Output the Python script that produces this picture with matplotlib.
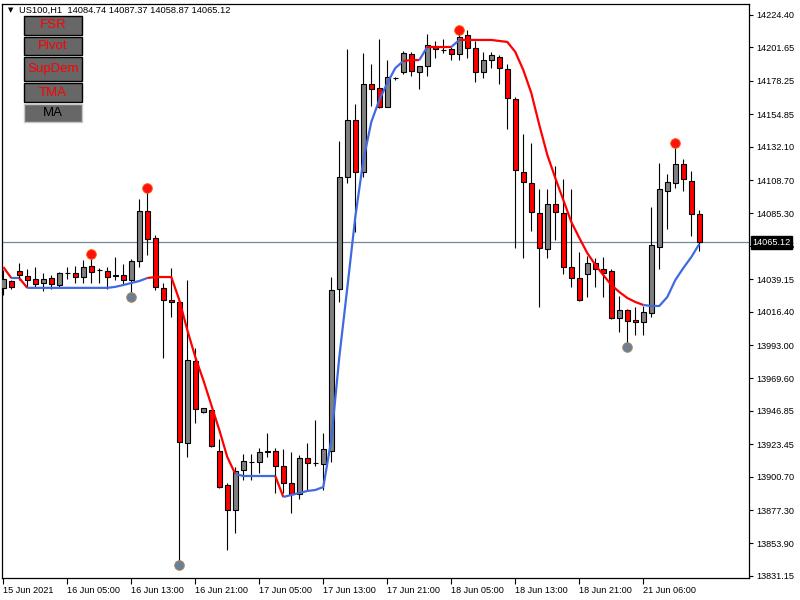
import matplotlib
matplotlib.use("Agg")
import matplotlib.pyplot as plt
from matplotlib.patches import Rectangle
from matplotlib.transforms import blended_transform_factory

# US100 H1 candles, oldest first
opens = [14033.1, 14037.9, 14044.9, 14041.4, 14039.3, 14036.5, 14040.0, 14035.1, 14043.5, 14043.5,
         14040.7, 14048.4, 14045.6, 14044.9, 14042.1, 14042.1, 14038.6, 14051.9, 14087.0, 14068.1,
         14033.1, 14024.6, 14023.2, 13924.4, 13981.8, 13946.1, 13947.5, 13918.8, 13894.9, 13877.4,
         13905.4, 13911.0, 13911.0, 13918.1, 13918.8, 13908.2, 13896.3, 13888.6, 13913.8, 13910.3,
         13909.6, 13918.8, 14032.3, 14110.8, 14150.8, 14114.3, 14176.0, 14173.2, 14159.9, 14180.2,
         14184.4, 14197.1, 14184.4, 14188.6, 14202.0, 14199.9, 14200.6, 14197.1, 14210.4, 14201.3,
         14184.4, 14192.8, 14195.0, 14186.5, 14165.5, 14114.3, 14106.6, 14085.6, 14060.3, 14091.9,
         14085.6, 14047.7, 14040.0, 14042.8, 14050.5, 14046.3, 14044.9, 14012.0, 14017.6, 14010.6,
         14009.2, 14015.5, 14061.7, 14101.0, 14106.6, 14119.9, 14108.0, 14084.74]
highs = [14045.6, 14038.6, 14050.5, 14046.3, 14047.7, 14043.5, 14042.1, 14044.2, 14047.7, 14048.4,
         14052.6, 14057.0, 14047.0, 14047.7, 14054.7, 14049.8, 14053.3, 14095.4, 14103.1, 14070.2,
         14036.5, 14047.0, 14024.6, 14038.6, 13991.0, 13948.9, 13947.5, 13927.2, 13896.3, 13907.5,
         13916.6, 13916.6, 13920.9, 13931.4, 13920.9, 13920.2, 13918.1, 13915.9, 13924.4, 13940.5,
         13931.4, 14040.7, 14136.1, 14200.6, 14162.0, 14197.8, 14190.0, 14207.6, 14192.8, 14180.9,
         14199.2, 14198.5, 14188.6, 14211.1, 14206.2, 14207.6, 14202.0, 14213.9, 14213.9, 14206.2,
         14198.5, 14198.5, 14196.4, 14190.0, 14166.9, 14141.0, 14134.7, 14102.4, 14102.4, 14118.5,
         14109.4, 14102.4, 14058.2, 14055.4, 14054.0, 14054.7, 14046.3, 14027.4, 14018.3, 14019.7,
         14020.4, 14089.8, 14120.6, 14113.0, 14131.2, 14123.4, 14115.0, 14087.37]
lows = [14028.1, 14032.3, 14038.6, 14033.8, 14033.1, 14030.9, 14032.3, 14033.1, 14039.3, 14036.5,
        14036.5, 14036.5, 14036.5, 14032.3, 14038.6, 14035.1, 14026.7, 14047.7, 14056.1, 14031.6,
        13983.9, 14012.7, 13838.8, 13914.5, 13938.4, 13945.4, 13921.6, 13892.8, 13849.3, 13861.3,
        13898.4, 13898.4, 13903.3, 13914.5, 13889.3, 13889.3, 13875.3, 13885.1, 13891.4, 13908.2,
        13891.4, 13911.0, 14023.2, 14106.6, 14072.3, 14110.8, 14160.6, 14159.2, 14159.9, 14178.8,
        14183.0, 14181.6, 14172.5, 14181.6, 14194.2, 14197.8, 14192.8, 14192.8, 14194.2, 14177.4,
        14180.2, 14187.2, 14176.0, 14144.5, 14061.0, 14054.0, 14073.0, 14019.7, 14054.0, 14066.7,
        14042.8, 14033.8, 14023.9, 14026.7, 14033.8, 14026.7, 14011.3, 14002.2, 13991.0, 14000.1,
        14000.1, 14012.7, 14046.3, 14074.4, 14103.1, 14101.0, 14069.5, 14058.87]
closes = [14039.3, 14033.8, 14042.1, 14038.6, 14035.8, 14039.3, 14035.8, 14043.5, 14043.2, 14040.7,
          14047.7, 14044.2, 14045.8, 14040.7, 14041.4, 14038.6, 14051.9, 14087.0, 14067.4, 14033.8,
          14024.6, 14023.2, 13925.1, 13982.5, 13948.2, 13948.9, 13922.3, 13893.5, 13877.4, 13904.7,
          13911.7, 13911.3, 13918.1, 13918.4, 13908.2, 13896.3, 13888.6, 13913.8, 13910.3, 13910.0,
          13920.2, 14031.6, 14110.8, 14150.8, 14114.3, 14176.0, 14172.5, 14159.9, 14180.9, 14180.5,
          14197.8, 14185.1, 14188.6, 14203.4, 14200.6, 14199.6, 14197.1, 14209.0, 14201.3, 14184.4,
          14192.8, 14196.4, 14187.2, 14166.2, 14115.7, 14107.3, 14086.3, 14061.0, 14091.9, 14086.3,
          14047.7, 14040.0, 14024.6, 14050.5, 14046.3, 14043.5, 14012.0, 14017.6, 14009.9, 14009.2,
          14016.2, 14063.1, 14102.4, 14107.3, 14119.9, 14109.4, 14084.9, 14065.12]

# trend line and its colour state per bar (r = down, b = up)
trend_line = [14047.7, 14040.0, 14040.0, 14033.1, 14033.1, 14033.1, 14033.1, 14033.1, 14033.1, 14033.1,
              14033.1, 14033.1, 14033.1, 14033.1, 14033.8, 14035.1, 14036.5, 14037.9, 14040.0, 14040.7,
              14040.7, 14040.7, 14024.6, 14003.6, 13984.6, 13968.5, 13951.0, 13933.5, 13914.5, 13902.6,
              13901.2, 13901.2, 13901.2, 13901.2, 13901.2, 13886.5, 13887.9, 13889.3, 13890.7, 13891.4,
              13893.5, 13926.5, 13984.6, 14033.1, 14082.8, 14122.4, 14149.4, 14164.8, 14176.7, 14187.2,
              14192.1, 14192.8, 14192.8, 14202.0, 14202.0, 14202.0, 14202.0, 14206.9, 14206.9, 14206.9,
              14206.9, 14206.9, 14206.2, 14205.5, 14198.5, 14185.8, 14169.7, 14147.3, 14126.3, 14110.1,
              14094.7, 14079.3, 14068.1, 14057.5, 14049.2, 14042.1, 14035.1, 14030.2, 14026.0, 14023.2,
              14021.1, 14020.4, 14020.4, 14026.7, 14038.6, 14047.0, 14054.7, 14063.9]
trend_state = list("rrbr" + "b" * 15 + "r" * 11 + "b" * 5 + "r" + "b" * 15 + "rrb" + "rrr" + "b"
                   + "r" * 23 + "b" * 7)

# fractal dots (bar index, price)
up_fractals = [(11, 14056.8), (18, 14103.1), (57, 14213.9), (84, 14134.7)]
down_fractals = [(16, 14026.7), (22, 13838.8), (78, 13991.7)]

y_ticks = [14224.40, 14201.65, 14178.25, 14154.85, 14132.10, 14108.70, 14085.30, 14062.55,
           14039.15, 14016.40, 13993.00, 13969.60, 13946.85, 13923.45, 13900.70, 13877.30,
           13853.90, 13831.15]
x_tick_bars = [0, 8, 16, 24, 32, 40, 48, 56, 64, 72, 80]
x_tick_labels = ["15 Jun 2021", "16 Jun 05:00", "16 Jun 13:00", "16 Jun 21:00", "17 Jun 05:00",
                 "17 Jun 13:00", "17 Jun 21:00", "18 Jun 05:00", "18 Jun 13:00", "18 Jun 21:00",
                 "21 Jun 06:00"]
buttons = ["FSR", "Pivot", "SupDem", "TMA", "MA"]
last_price = 14065.12

plt.rcParams["font.family"] = ["Liberation Sans", "DejaVu Sans"]

fig = plt.figure(figsize=(8, 6), dpi=100)
ax = fig.add_axes([2 / 800, 22 / 600, 747 / 800, 574 / 600])

# candles
for i in range(len(opens)):
    o, h, l, c = opens[i], highs[i], lows[i], closes[i]
    ax.vlines(i, l, h, color="black", lw=0.8, zorder=2)
    bottom = min(o, c)
    height = max(abs(c - o), 0.35)
    fc = "#808080" if c > o else "#ff0000"
    ax.add_patch(Rectangle((i - 0.3, bottom), 0.6, height, facecolor=fc,
                           edgecolor="black", lw=0.8, zorder=3))

# coloured trend line, drawn in runs of the same state
runs = []
cur = None
for i in range(1, len(trend_line)):
    st = trend_state[i]
    if cur is None or cur[0] != st:
        cur = [st, [i - 1]]
        runs.append(cur)
    cur[1].append(i)
for st, idx in runs:
    col = "#ff0000" if st == "r" else "#4169e1"
    ax.plot(idx, [trend_line[k] for k in idx], color=col, lw=1.6, zorder=4,
            solid_capstyle="butt")

ax.plot([p[0] for p in up_fractals], [p[1] for p in up_fractals], "o", color="#ff1010",
        ms=7, mec="#ff6a00", mew=0.6, zorder=5)
ax.plot([p[0] for p in down_fractals], [p[1] for p in down_fractals], "o", color="#6e7f91",
        ms=7, mec="#b08a60", mew=0.6, zorder=5)

ax.axhline(last_price, color="#778899", lw=0.9, zorder=1)

ax.set_xlim(-0.16, 93.21)
ax.set_ylim(13829.7, 14232.1)

ax.yaxis.tick_right()
ax.set_yticks(y_ticks)
ax.set_yticklabels(["%.2f" % v for v in y_ticks], fontsize=6.6)
ax.set_xticks(x_tick_bars)
ax.set_xticklabels(x_tick_labels, fontsize=6.6, ha="left")
ax.tick_params(axis="y", length=3, width=0.8, pad=2)
ax.tick_params(axis="x", length=4, width=0.8, pad=2)
for s in ax.spines.values():
    s.set_linewidth(0.9)

# last price tag covers the nearby tick label, as in the terminal
trans = blended_transform_factory(ax.transAxes, ax.transData)
ax.text(1.0045, last_price, "%.2f" % last_price, transform=trans, fontsize=6.6, color="white",
        va="center", ha="left", clip_on=False, zorder=10,
        bbox=dict(boxstyle="square,pad=0.2", fc="black", ec="black"))

# header
fig.text(8 / 800, 1 - 10 / 600, "\u25bc", fontsize=5, va="center", ha="left",
         family="DejaVu Sans")
fig.text(19 / 800, 1 - 10 / 600, "US100,H1  14084.74 14087.37 14058.87 14065.12",
         fontsize=6.7, va="center", ha="left")

# indicator buttons
button_rows = [(16, 35), (37, 55), (57, 81), (83, 102), (104, 122)]
for name, (y0, y1) in zip(buttons, button_rows):
    is_ma = name == "MA"
    fig.add_artist(Rectangle((24 / 800, 1 - y1 / 600), 58 / 800, (y1 - y0) / 600,
                             transform=fig.transFigure, fc="#676767",
                             ec="#c8c8c8" if is_ma else "black", lw=1.0))
    fig.text(53 / 800, 1 - (y0 + y1) / 2 / 600, name, fontsize=9.5,
             color="black" if is_ma else "#ff0000", ha="center", va="center")

fig.savefig("out.png", dpi=100)
